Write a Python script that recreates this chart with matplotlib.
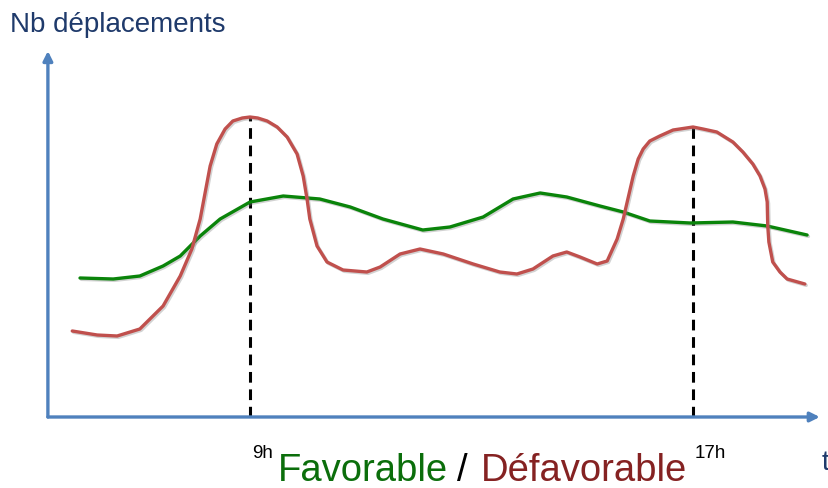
import numpy as np
import matplotlib
matplotlib.use("Agg")
import matplotlib.pyplot as plt
import matplotlib.patheffects as pe

plt.rcParams['font.family'] = ['Liberation Sans', 'DejaVu Sans']

# heures / nombre de deplacements (unites arbitraires)
h_red = [5.79, 6.24, 6.60, 7.01, 7.43, 7.74, 7.95, 8.10, 8.28, 8.40, 8.55, 8.69,
         8.86, 9.00, 9.14, 9.31, 9.49, 9.67, 9.85, 9.96, 10.03, 10.08, 10.21,
         10.39, 10.68, 11.11, 11.35, 11.71, 12.07, 12.49, 13.03, 13.51, 13.82,
         14.11, 14.47, 14.72, 14.96, 15.27, 15.45, 15.63, 15.74, 15.92, 16.01,
         16.10, 16.22, 16.40, 16.64, 17.00, 17.18, 17.43, 17.72, 17.90, 18.08,
         18.21, 18.30, 18.34, 18.35, 18.37, 18.44, 18.57, 18.70, 19.02]
v_red = [8.6, 8.2, 8.1, 8.8, 11.1, 14.1, 16.8, 19.8, 25.1, 27.3, 28.8, 29.6,
         29.9, 30.0, 29.9, 29.6, 29.0, 28.0, 26.3, 24.1, 21.8, 19.8, 17.1,
         15.5, 14.7, 14.5, 15.0, 16.3, 16.8, 16.3, 15.3, 14.5, 14.3,
         14.8, 16.1, 16.5, 16.0, 15.3, 15.6, 17.8, 19.8, 24.1, 25.8,
         26.8, 27.6, 28.1, 28.7, 29.0, 28.8, 28.5, 27.5, 26.5, 25.3,
         24.1, 22.8, 21.5, 19.1, 17.5, 15.5, 14.5, 13.8, 13.3]

h_green = [5.93, 6.53, 7.01, 7.43, 7.74, 8.10, 8.46, 9.00, 9.60, 10.26, 10.81,
           11.40, 12.12, 12.61, 13.21, 13.75, 14.24, 14.72, 15.32, 15.74, 16.22,
           16.95, 17.72, 18.34, 19.06]
v_green = [13.9, 13.8, 14.1, 15.1, 16.1, 18.1, 19.8, 21.5, 22.1, 21.8, 21.0,
           19.8, 18.7, 19.0, 20.0, 21.8, 22.4, 22.0, 21.1, 20.5, 19.6,
           19.4, 19.5, 19.1, 18.2]

peaks_h = [9, 17]
peaks_v = [30.0, 29.0]
peak_labels = ['9h', '17h']

fig = plt.figure(figsize=(8.29, 4.89), dpi=100)
ax = fig.add_axes([0, 0, 1, 1])
ax.set_xlim(4.485, 19.456)
ax.set_ylim(-7.1, 41.8)
ax.axis('off')

axis_col = '#4F81BD'
shadow = [pe.SimpleLineShadow(offset=(1, -1), shadow_color='gray', alpha=0.35), pe.Normal()]

# axes avec fleches
ax.annotate('', xy=(5.35, 36.6), xytext=(5.35, 0),
            arrowprops=dict(arrowstyle='-|>', color=axis_col, lw=2.4,
                            mutation_scale=14, shrinkA=0, shrinkB=0))
ax.annotate('', xy=(19.29, 0), xytext=(5.35, 0),
            arrowprops=dict(arrowstyle='-|>', color=axis_col, lw=2.4,
                            mutation_scale=14, shrinkA=0, shrinkB=0))

for h, v in zip(peaks_h, peaks_v):
    ax.plot([h, h], [0, v], color='black', lw=2.2, linestyle=(0, (3.5, 2.2)), zorder=2)

ax.plot(h_green, v_green, color='#0A840A', lw=2.4, solid_joinstyle='round',
        solid_capstyle='round', path_effects=shadow, zorder=3)
ax.plot(h_red, v_red, color='#C0504D', lw=2.4, solid_joinstyle='round',
        solid_capstyle='round', path_effects=shadow, zorder=3)

navy = '#1F3A6B'
fig.text(10 / 829, 1 - 32 / 489, 'Nb déplacements', color=navy, fontsize=20,
         ha='left', va='baseline')
fig.text(822 / 829, 1 - 470 / 489, 't', color=navy, fontsize=20,
         ha='left', va='baseline')

for h, lab in zip(peaks_h, peak_labels):
    ax.text(h + 0.03, -4.0, lab, fontsize=13.5, color='black', ha='left', va='baseline')

fig.text(278 / 829, 1 - 481 / 489, 'Favorable', color='#0B6E0B', fontsize=27.5,
         ha='left', va='baseline')
fig.text(462 / 829, 1 - 481 / 489, '/', color='black', fontsize=27.5,
         ha='center', va='baseline')
fig.text(687 / 829, 1 - 481 / 489, 'Défavorable', color='#852222', fontsize=27.5,
         ha='right', va='baseline')

fig.savefig('out.png', dpi=100)
